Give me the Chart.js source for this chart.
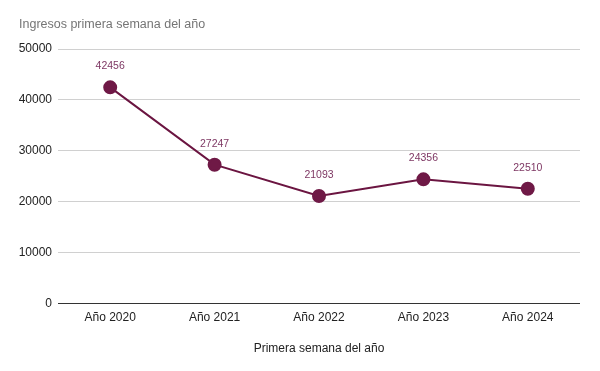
<!DOCTYPE html>
<html><head><meta charset="utf-8">
<script src="https://cdn.jsdelivr.net/npm/chart.js@4"></script>
<style>html,body{margin:0;padding:0;background:#fff}#wrap{width:600px;height:371px}</style>
</head><body><div id="wrap"><canvas id="c" width="600" height="371"></canvas></div>
<script>
const categories = ["Año 2020","Año 2021","Año 2022","Año 2023","Año 2024"];
const ingresos = [42456, 27247, 21093, 24356, 22510];
const yTicks = [0, 10000, 20000, 30000, 40000, 50000];
const chartTitle = "Ingresos primera semana del año";
const xTitle = "Primera semana del año";

const labelPlugin = {
  id: 'valueLabels',
  afterDatasetsDraw(chart) {
    const ctx = chart.ctx;
    const meta = chart.getDatasetMeta(0);
    ctx.save();
    ctx.font = '10.5px "Liberation Sans", Arial, sans-serif';
    ctx.fillStyle = '#7e3763';
    ctx.textAlign = 'center';
    ctx.textBaseline = 'middle';
    meta.data.forEach((pt, i) => {
      ctx.fillText(String(ingresos[i]), pt.x, pt.y - 21);
    });
    ctx.restore();
  }
};

new Chart(document.getElementById('c'), {
  type: 'line',
  data: {
    labels: categories,
    datasets: [{
      data: ingresos,
      borderColor: '#6b1541',
      backgroundColor: '#6f1946',
      pointBackgroundColor: '#6f1946',
      pointBorderColor: '#6f1946',
      pointRadius: 6,
      borderWidth: 2,
      tension: 0
    }]
  },
  options: {
    responsive: false,
    animation: false,
    layout: { padding: { left: 19, right: 20, top: 0, bottom: 11 } },
    plugins: {
      legend: { display: false },
      tooltip: { enabled: false },
      title: {
        display: true, text: chartTitle, align: 'start',
        color: '#757575',
        font: { family: '"Liberation Sans", Arial, sans-serif', size: 12.5, weight: 'normal' },
        padding: { top: 17, bottom: 17 }
      }
    },
    scales: {
      x: {
        offset: true,
        grid: { display: false, drawTicks: false },
        border: { display: false },
        ticks: { color: '#222', padding: 7, font: { family: '"Liberation Sans", Arial, sans-serif', size: 12 } },
        title: { display: true, text: xTitle, color: '#222', padding: { top: 10 },
          font: { family: '"Liberation Sans", Arial, sans-serif', size: 12 } }
      },
      y: {
        min: 0, max: 50000,
        afterBuildTicks(axis) { axis.ticks = yTicks.map(v => ({ value: v })); },
        afterFit(axis) { axis.width = 39; },
        grid: {
          drawTicks: false,
          color: ctx => ctx.tick && ctx.tick.value === 0 ? '#333333' : '#d0d0d0',
          lineWidth: 1
        },
        border: { display: false },
        ticks: { color: '#222', padding: 6, callback: v => String(v),
          font: { family: '"Liberation Sans", Arial, sans-serif', size: 12 } }
      }
    }
  },
  plugins: [labelPlugin]
});
</script>
</body></html>
